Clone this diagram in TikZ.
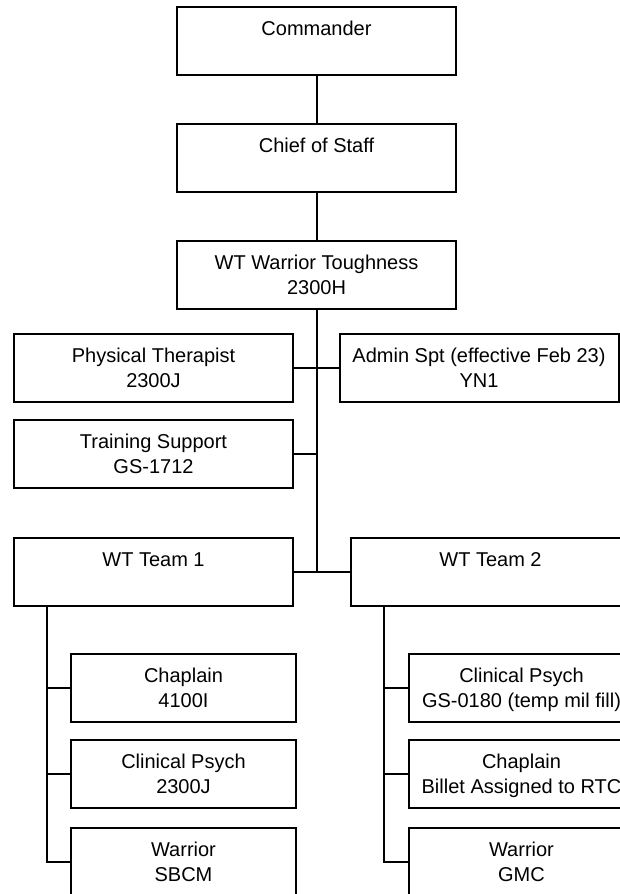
\documentclass[tikz,border=0pt]{standalone}
\usepackage{fontspec}
\setmainfont{Liberation Sans}
% two text lines per box: first baseline near the top, second line below it
\newcommand{\boxtext}[2]{\rule{0pt}{19pt}#1\\#2\rule[-6pt]{0pt}{6pt}}
\begin{document}
\begin{tikzpicture}[x=1pt,y=-1pt,
  orgbox/.style={draw=black, line width=2pt, fill=white, inner sep=0pt,
    align=center, font=\fontsize{20}{25}\selectfont},
  widebox/.style={orgbox, minimum width=279pt, minimum height=68pt},
  subbox/.style={orgbox, minimum width=225pt, minimum height=68pt},
  link/.style={draw=black, line width=2pt}]
\useasboundingbox (0,0) rectangle (619,894);

% command chain
\node[widebox] (cmd) at (316.5,41)  {\boxtext{Commander}{}};
\node[widebox] (cos) at (316.5,158) {\boxtext{Chief of Staff}{}};
\node[widebox] (wt)  at (316.5,275) {\boxtext{WT Warrior Toughness}{2300H}};

% staff
\node[widebox] (pt)  at (153.5,368) {\boxtext{Physical Therapist}{2300J}};
\node[widebox] (adm) at (479,368)   {\boxtext{Admin Spt (effective Feb 23)}{YN1}};
\node[widebox] (trn) at (153.5,454) {\boxtext{Training Support}{GS-1712}};

% teams
\node[widebox] (t1) at (153.5,572) {\boxtext{WT Team 1}{}};
\node[widebox] (t2) at (490.5,572) {\boxtext{WT Team 2}{}};

% team 1 members
\node[subbox] (c1a) at (183.5,688) {\boxtext{Chaplain}{4100I}};
\node[subbox] (c1b) at (183.5,774) {\boxtext{Clinical Psych}{2300J}};
\node[subbox] (c1c) at (183.5,862) {\boxtext{Warrior}{SBCM}};

% team 2 members
\node[subbox] (c2a) at (521.5,688) {\boxtext{Clinical Psych}{GS-0180 (temp mil fill)}};
\node[subbox] (c2b) at (521.5,774) {\boxtext{Chaplain}{Billet Assigned to RTC}};
\node[subbox] (c2c) at (521.5,862) {\boxtext{Warrior}{GMC}};

% connectors
\draw[link] (cmd) -- (cos);
\draw[link] (cos) -- (wt);
\draw[link] (wt.south) -- (wt.south |- t1.east);
\draw[link] (pt) -- (adm);
\draw[link] (trn.east) -- (trn.east -| wt.south);
\draw[link] (t1) -- (t2);

\coordinate (bus1) at ([xshift=34pt]t1.south west);
\coordinate (bus2) at ([xshift=34pt]t2.south west);
\draw[link] (bus1) |- (c1c.west);
\draw[link] (c1a.west) -- (c1a.west -| bus1);
\draw[link] (c1b.west) -- (c1b.west -| bus1);
\draw[link] (bus2) |- (c2c.west);
\draw[link] (c2a.west) -- (c2a.west -| bus2);
\draw[link] (c2b.west) -- (c2b.west -| bus2);
\end{tikzpicture}
\end{document}
